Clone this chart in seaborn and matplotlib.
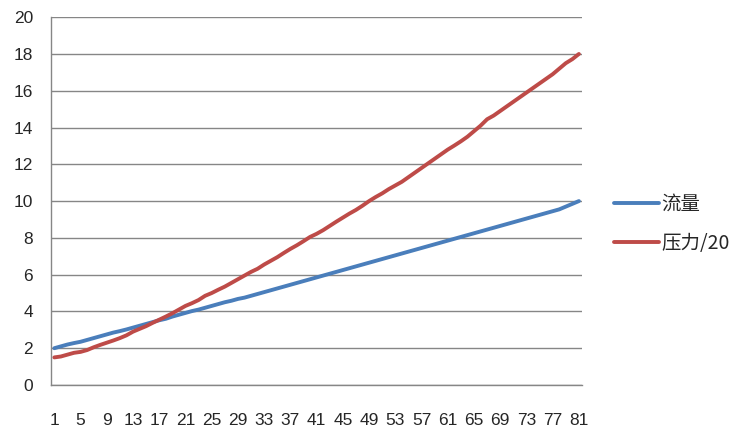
import numpy as np
import pandas as pd
import matplotlib
matplotlib.use("Agg")
import matplotlib.pyplot as plt
import seaborn as sns

# data
samples = list(range(1, 82))
flow = [
    2.00, 2.10, 2.20, 2.28, 2.35, 2.45, 2.55, 2.65, 2.75, 2.85,
    2.93, 3.02, 3.12, 3.22, 3.32, 3.42, 3.52, 3.60, 3.72, 3.82,
    3.92, 4.02, 4.10, 4.20, 4.30, 4.40, 4.50, 4.58, 4.68, 4.75,
    4.85, 4.95, 5.05, 5.15, 5.25, 5.35, 5.45, 5.55, 5.65, 5.75,
    5.85, 5.95, 6.05, 6.15, 6.25, 6.35, 6.45, 6.55, 6.65, 6.75,
    6.85, 6.95, 7.05, 7.15, 7.25, 7.35, 7.45, 7.55, 7.65, 7.75,
    7.85, 7.95, 8.05, 8.15, 8.25, 8.35, 8.45, 8.55, 8.65, 8.75,
    8.85, 8.95, 9.05, 9.15, 9.25, 9.35, 9.45, 9.55, 9.70, 9.85,
    10.00,
]
pressure = [
    1.50, 1.55, 1.65, 1.75, 1.80, 1.90, 2.05, 2.18, 2.30, 2.42,
    2.55, 2.70, 2.90, 3.05, 3.20, 3.38, 3.55, 3.72, 3.90, 4.10,
    4.30, 4.45, 4.62, 4.85, 5.00, 5.18, 5.35, 5.55, 5.75, 5.95,
    6.15, 6.32, 6.55, 6.75, 6.95, 7.18, 7.40, 7.60, 7.82, 8.05,
    8.22, 8.42, 8.65, 8.88, 9.10, 9.32, 9.52, 9.75, 10.00, 10.22,
    10.42, 10.65, 10.85, 11.05, 11.30, 11.55, 11.80, 12.05, 12.30, 12.55,
    12.80, 13.02, 13.25, 13.50, 13.80, 14.10, 14.45, 14.65, 14.90, 15.15,
    15.40, 15.65, 15.90, 16.15, 16.40, 16.65, 16.90, 17.20, 17.50, 17.72,
    18.00,
]
series_names = ["流量", "压力/20"]
colors = ["#4A7EBB", "#BE4B48"]

df = pd.DataFrame({
    "x": samples * 2,
    "y": flow + pressure,
    "series": [series_names[0]] * len(samples) + [series_names[1]] * len(samples),
})

sns.set_style("white")
plt.rcParams["font.family"] = ["Noto Sans CJK SC", "DejaVu Sans"]

fig = plt.figure(figsize=(7.46, 4.41), dpi=100)
ax = fig.add_axes([0.0684, 0.127, 0.712, 0.834])

sns.lineplot(data=df, x="x", y="y", hue="series", palette=colors,
             linewidth=2.8, ax=ax, legend=True)

ax.set_xlim(0.5, 81.5)
ax.set_ylim(0, 20)
ax.set_yticks(range(0, 21, 2))
ax.set_xticks(range(1, 82, 4))
ax.set_xticks(np.arange(0.5, 82, 1), minor=True)
ax.tick_params(axis="x", which="major", length=0, pad=20, labelsize=12.5)
ax.tick_params(axis="x", which="minor", length=5, color="#868686", direction="out")
ax.tick_params(axis="y", length=0, pad=13, labelsize=12.5)
for lab in ax.get_xticklabels() + ax.get_yticklabels():
    lab.set_fontfamily(["Liberation Sans", "DejaVu Sans"])

ax.grid(axis="y", color="#868686", linewidth=1)
ax.set_axisbelow(True)
for side in ["top", "right"]:
    ax.spines[side].set_visible(False)
for side in ["left", "bottom"]:
    ax.spines[side].set_color("#868686")
    ax.spines[side].set_linewidth(1)
ax.set_xlabel("")
ax.set_ylabel("")

ax.legend(title=None, frameon=False, loc="center left",
          bbox_to_anchor=(1.027, 0.4375), fontsize=14, handlelength=2.3,
          handletextpad=0.15, labelspacing=0.93)

plt.savefig("out.png", dpi=100)
plt.close()
